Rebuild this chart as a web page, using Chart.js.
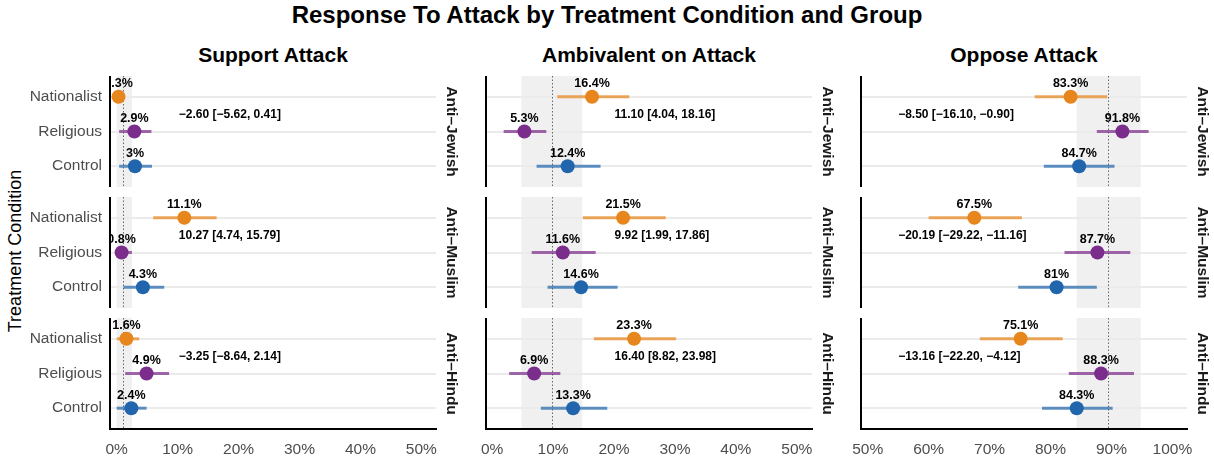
<!DOCTYPE html>
<html>
<head>
<meta charset="utf-8">
<script src="https://cdn.jsdelivr.net/npm/chart.js@4.4.1/dist/chart.umd.min.js"></script>
<style>
    body { margin: 0; background: #fff; width: 1214px; height: 456px; position: relative; overflow: hidden;
           font-family: "Liberation Sans", Arial, sans-serif; }
    .abs { position: absolute; }
    #title { left: 0; width: 1214px; top: 1px; text-align: center; font-weight: bold; font-size: 24px; line-height: 28px; color: #000; }
    .coltitle { top: 43px; width: 326px; text-align: center; font-weight: bold; font-size: 21px; line-height: 24px; color: #000; }
    #ytitle { left: 15px; top: 251px; font-size: 18px; white-space: nowrap; color: #000;
              transform: translate(-50%, -50%) rotate(-90deg); }
    canvas.panel { position: absolute; }
</style>
</head>
<body>
<div id="title" class="abs">Response To Attack by Treatment Condition and Group</div>
<div id="ytitle" class="abs">Treatment Condition</div>
<script>
// ─── Data ───
const groups = ['Nationalist', 'Religious', 'Control'];
const targets = ['Anti–Jewish', 'Anti–Muslim', 'Anti–Hindu'];
const responses = ['Support Attack', 'Ambivalent on Attack', 'Oppose Attack'];
const xTicksLow = [0, 10, 20, 30, 40, 50];
const xTicksHigh = [50, 60, 70, 80, 90, 100];

// rows = target (Jewish, Muslim, Hindu), cols = group (Nationalist, Religious, Control)
const supportMean = [[0.3, 2.9, 3], [11.1, 0.8, 4.3], [1.6, 4.9, 2.4]];
const supportLow  = [[0.0, 0.4, 0.4], [6.0, 0.0, 1.1], [0.0, 1.4, 0.0]];
const supportHigh = [[0.9, 5.7, 5.8], [16.4, 2.5, 7.8], [3.7, 8.6, 4.9]];

const ambivalentMean = [[16.4, 5.3, 12.4], [21.5, 11.6, 14.6], [23.3, 6.9, 13.3]];
const ambivalentLow  = [[10.7, 1.9, 7.3], [14.9, 6.5, 9.1], [16.7, 2.8, 8.0]];
const ambivalentHigh = [[22.5, 8.9, 17.8], [28.5, 17.0, 20.6], [30.2, 11.2, 18.9]];

const opposeMean = [[83.3, 91.8, 84.7], [67.5, 87.7, 81], [75.1, 88.3, 84.3]];
const opposeLow  = [[77.4, 87.6, 78.9], [60.0, 82.3, 74.7], [68.4, 83.0, 78.6]];
const opposeHigh = [[89.3, 96.1, 90.5], [75.3, 93.1, 87.6], [82.0, 93.7, 90.2]];

// Nationalist minus Control, per response then target
const diffEst  = [[-2.60, 10.27, -3.25], [11.10, 9.92, 16.40], [-8.50, -20.19, -13.16]];
const diffLow  = [[-5.62, 4.74, -8.64], [4.04, 1.99, 8.82], [-16.10, -29.22, -22.20]];
const diffHigh = [[0.41, 15.79, 2.14], [18.16, 17.86, 23.98], [-0.90, -11.16, -4.12]];

// reference band per response
const refMean = [1.0, 9.9, 89.5];
const refLow  = [0.0, 4.8, 84.3];
const refHigh = [2.5, 14.8, 94.8];

// ─── Layout / style ───
const FONT = '"Liberation Sans", Arial, sans-serif';
const groupColors = ['#E6861C', '#7B2D8B', '#2166AC'];
const whiskerColors = ['rgba(230,134,28,0.72)', 'rgba(123,45,139,0.72)', 'rgba(33,102,172,0.72)'];
const panelLeft = [110, 486, 861];
const leftSpace = [110, 20, 20];
const panelTop = [76, 197, 318];
const panelW = 326, panelH = 111, stripW = 27, axisH = 27;
const xRanges = [[-1.1, 52.4], [-1.0, 52.5], [48.9, 102.4]];
const diffAnchor = [10.2, 20.1, 55.0];

const series = [
    { mean: supportMean, low: supportLow, high: supportHigh, ticks: xTicksLow },
    { mean: ambivalentMean, low: ambivalentLow, high: ambivalentHigh, ticks: xTicksLow },
    { mean: opposeMean, low: opposeLow, high: opposeHigh, ticks: xTicksHigh }
];

const fmtNum = v => v.toFixed(2).replace('-', '−');
const fmtDiff = (c, r) => `${fmtNum(diffEst[c][r])} [${fmtNum(diffLow[c][r])}, ${fmtNum(diffHigh[c][r])}]`;

// ─── Panel decorations: band, dotted ref line, labels, strip ───
const panelDecor = {
    id: 'panelDecor',
    beforeDraw(chart, args, o) {
        const { ctx, chartArea: a, scales: { x } } = chart;
        const x0 = x.getPixelForValue(refLow[o.col]);
        const x1 = x.getPixelForValue(refHigh[o.col]);
        ctx.save();
        ctx.fillStyle = '#F0F0F0';
        ctx.fillRect(x0, a.top, x1 - x0, a.bottom - a.top);
        ctx.restore();
    },
    beforeDatasetsDraw(chart, args, o) {
        const { ctx, chartArea: a, scales: { x } } = chart;
        const px = Math.round(x.getPixelForValue(refMean[o.col])) + 0.5;
        ctx.save();
        ctx.strokeStyle = '#666';
        ctx.lineWidth = 1;
        ctx.setLineDash([1.5, 2]);
        ctx.beginPath();
        ctx.moveTo(px, a.top);
        ctx.lineTo(px, a.bottom);
        ctx.stroke();
        ctx.restore();
    },
    afterDatasetsDraw(chart, args, o) {
        const { ctx, chartArea: a, scales: { x, y } } = chart;
        const s = series[o.col];
        ctx.save();
        ctx.beginPath();
        ctx.rect(a.left, a.top, a.right - a.left, a.bottom - a.top);
        ctx.clip();
        ctx.fillStyle = '#000';
        ctx.textBaseline = 'middle';
        ctx.textAlign = 'center';
        ctx.font = `bold 12.5px ${FONT}`;
        groups.forEach((g, i) => {
            const v = s.mean[o.row][i];
            ctx.fillText(v + '%', x.getPixelForValue(v), y.getPixelForValue(i + 1) - 13);
        });
        ctx.textAlign = 'left';
        ctx.font = `bold 12px ${FONT}`;
        ctx.fillText(fmtDiff(o.col, o.row), x.getPixelForValue(diffAnchor[o.col]), y.getPixelForValue(1.5) + 1);
        ctx.restore();
    },
    afterDraw(chart, args, o) {
        const { ctx, chartArea: a } = chart;
        ctx.save();
        ctx.translate(a.right + 15, (a.top + a.bottom) / 2);
        ctx.rotate(Math.PI / 2);
        ctx.fillStyle = '#1A1A1A';
        ctx.font = `bold 15.5px ${FONT}`;
        ctx.textAlign = 'center';
        ctx.textBaseline = 'middle';
        ctx.fillText(targets[o.row], 0, 0);
        ctx.restore();
    }
};

function makePanel(c, r) {
    const s = series[c];
    const leftPad = leftSpace[c];
    const bottom = r === 2;
    const canvas = document.createElement('canvas');
    canvas.className = 'panel';
    canvas.width = leftPad + panelW + stripW;
    canvas.height = panelH + (bottom ? axisH : 0);
    canvas.style.left = (panelLeft[c] - leftPad) + 'px';
    canvas.style.top = panelTop[r] + 'px';
    document.body.appendChild(canvas);

    const datasets = [{
        data: groups.map((g, i) => ({ x: s.mean[r][i], y: i + 1 })),
        pointBackgroundColor: groupColors,
        pointBorderWidth: 0,
        pointRadius: 7,
        order: 0
    }];
    groups.forEach((g, i) => {
        datasets.push({
            data: [{ x: s.low[r][i], y: i + 1 }, { x: s.high[r][i], y: i + 1 }],
            showLine: true,
            borderColor: whiskerColors[i],
            borderWidth: 3,
            borderCapStyle: 'butt',
            pointRadius: 0,
            order: 1
        });
    });

    const xScale = {
        type: 'linear',
        min: xRanges[c][0],
        max: xRanges[c][1],
        display: bottom,
        afterBuildTicks: sc => { sc.ticks = s.ticks.map(v => ({ value: v })); },
        grid: { display: false },
        border: { display: true, color: '#000', width: 2 },
        ticks: {
            color: '#4D4D4D', font: { family: FONT, size: 15.5 }, padding: 3,
            maxRotation: 0, autoSkip: false, callback: v => v + '%'
        }
    };
    if (bottom) xScale.afterFit = sc => {
        sc.height = axisH;
        sc.paddingLeft = 0;
        sc.paddingRight = 0;
    };

    new Chart(canvas, {
        type: 'scatter',
        data: { datasets },
        options: {
            responsive: false,
            animation: false,
            events: [],
            layout: { padding: { left: 0, right: stripW, top: 0, bottom: 0 }, autoPadding: false },
            plugins: {
                legend: { display: false },
                tooltip: { enabled: false },
                panelDecor: { col: c, row: r }
            },
            scales: {
                x: xScale,
                y: {
                    type: 'linear',
                    min: 0.4,
                    max: 3.6,
                    reverse: true,
                    afterBuildTicks: sc => { sc.ticks = groups.map((g, i) => ({ value: i + 1 })); },
                    afterFit: sc => {
                        sc.width = leftPad;
                        sc.paddingTop = 0;
                        sc.paddingBottom = 0;
                    },
                    grid: { color: '#EBEBEB', lineWidth: 2, drawTicks: false },
                    border: { display: true, color: '#000', width: 2 },
                    ticks: {
                        display: c === 0, color: '#4D4D4D', font: { family: FONT, size: 15.5 },
                        padding: 8, callback: v => groups[v - 1]
                    }
                }
            }
        },
        plugins: [panelDecor]
    });
}

responses.forEach((name, c) => {
    const t = document.createElement('div');
    t.className = 'abs coltitle';
    t.style.left = panelLeft[c] + 'px';
    t.textContent = name;
    document.body.appendChild(t);
    targets.forEach((tg, r) => makePanel(c, r));
});
</script>
</body>
</html>
